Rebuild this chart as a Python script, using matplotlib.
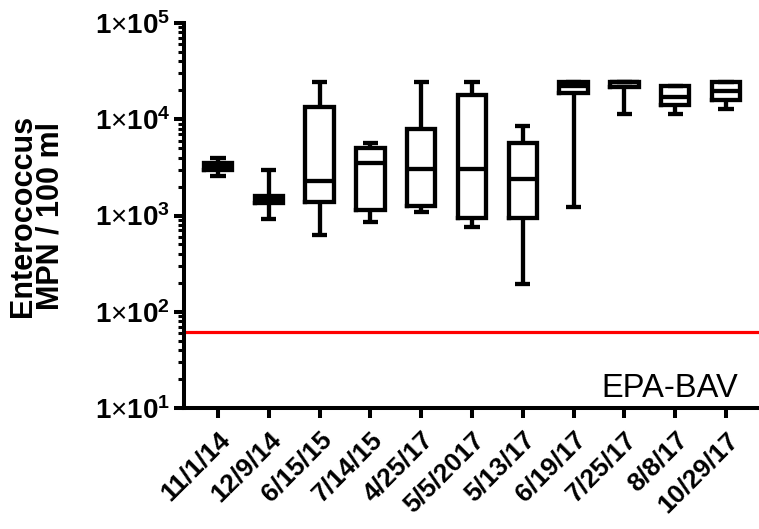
import matplotlib
matplotlib.use("Agg")
import matplotlib.pyplot as plt
from matplotlib.ticker import FixedLocator, FixedFormatter, LogLocator, NullFormatter
from matplotlib.transforms import ScaledTranslation

plt.rcParams['font.family'] = ['Liberation Sans', 'DejaVu Sans']
plt.rcParams['mathtext.fontset'] = 'custom'
plt.rcParams['mathtext.rm'] = 'Liberation Sans'
plt.rcParams['mathtext.bf'] = 'Liberation Sans:bold'
plt.rcParams['mathtext.it'] = 'Liberation Sans:italic'

# ---- data ----
dates = ["11/1/14", "12/9/14", "6/15/15", "7/14/15", "4/25/17", "5/5/2017",
         "5/13/17", "6/19/17", "7/25/17", "8/8/17", "10/29/17"]
whisker_low = [2550, 925, 630, 851, 1081, 755, 194, 1228, 11460, 11220, 12700]
q1 = [2940, 1350, 1377, 1128, 1270, 946, 946, 18660, 21500, 14160, 15960]
median = [3200, 1450, 2275, 3540, 3060, 3010, 2370, 22300, 24196, 17070, 19720]
q3 = [3520, 1585, 13430, 5070, 7870, 18070, 5660, 24196, 24196, 21980, 24196]
whisker_high = [3990, 2940, 24196, 5660, 24196, 24196, 8450, 24196, 24196, 21980, 24196]
epa_bav = 61
y_ticks = [1e1, 1e2, 1e3, 1e4, 1e5]
y_tick_labels = [r"$\mathbf{1}$" + "×" + r"$\mathbf{10^{1}}$",
                 r"$\mathbf{1}$" + "×" + r"$\mathbf{10^{2}}$",
                 r"$\mathbf{1}$" + "×" + r"$\mathbf{10^{3}}$",
                 r"$\mathbf{1}$" + "×" + r"$\mathbf{10^{4}}$",
                 r"$\mathbf{1}$" + "×" + r"$\mathbf{10^{5}}$"]
y_label = "Enterococcus\nMPN / 100 ml"
bav_label = "EPA-BAV"

W, H = 759, 529
fig = plt.figure(figsize=(W / 100, H / 100), dpi=100)
ax = fig.add_axes([184 / W, 1 - 408 / H, (W - 184) / W, (408 - 23) / H])

stats = []
for i in range(len(dates)):
    stats.append(dict(med=median[i], q1=q1[i], q3=q3[i],
                      whislo=whisker_low[i], whishi=whisker_high[i], fliers=[]))

lw = 3.1
positions = list(range(1, len(dates) + 1))
ax.bxp(stats, positions=positions, widths=0.56, capwidths=0.3, showfliers=False,
       boxprops=dict(color='black', linewidth=lw, solid_joinstyle='miter', solid_capstyle='projecting'),
       whiskerprops=dict(color='black', linewidth=lw, solid_capstyle='butt'),
       capprops=dict(color='black', linewidth=lw, solid_capstyle='butt'),
       medianprops=dict(color='black', linewidth=lw, solid_capstyle='butt'))

ax.axhline(epa_bav, color='#ff0000', linewidth=2.3, zorder=1)
ax.text(0.963, 0.029, bav_label, transform=ax.transAxes, ha='right', va='baseline',
        fontsize=23.5, color='black')

ax.set_yscale('log')
ax.set_ylim(1e1, 1e5)
ax.set_xlim(0.33, 11.65)

ax.yaxis.set_major_locator(FixedLocator(y_ticks))
ax.yaxis.set_major_formatter(FixedFormatter(y_tick_labels))
ax.yaxis.set_minor_locator(LogLocator(base=10, subs=range(2, 10)))
ax.yaxis.set_minor_formatter(NullFormatter())

ax.set_xticks(positions)
ax.set_xticklabels(dates, rotation=45, ha='right', va='top', rotation_mode='anchor',
                   fontsize=19, fontweight='bold')
for lab in ax.get_xticklabels():
    lab.set_transform(lab.get_transform() + ScaledTranslation(1 / 100, 0, fig.dpi_scale_trans))

for s in ['top', 'right']:
    ax.spines[s].set_visible(False)
for s in ['left', 'bottom']:
    ax.spines[s].set_linewidth(2.9)
    ax.spines[s].set_capstyle('projecting')

ax.tick_params(axis='y', which='major', length=7, width=2.9, labelsize=20, pad=3)
ax.tick_params(axis='y', which='minor', length=4.5, width=2.2)
ax.tick_params(axis='x', which='major', length=7, width=2.9, pad=7)

ax.set_ylabel(y_label, fontsize=22, fontweight='bold', linespacing=0.9)
ax.yaxis.set_label_coords((66 - 184) / (W - 184), 0.5)

fig.savefig("out.png", dpi=100)
